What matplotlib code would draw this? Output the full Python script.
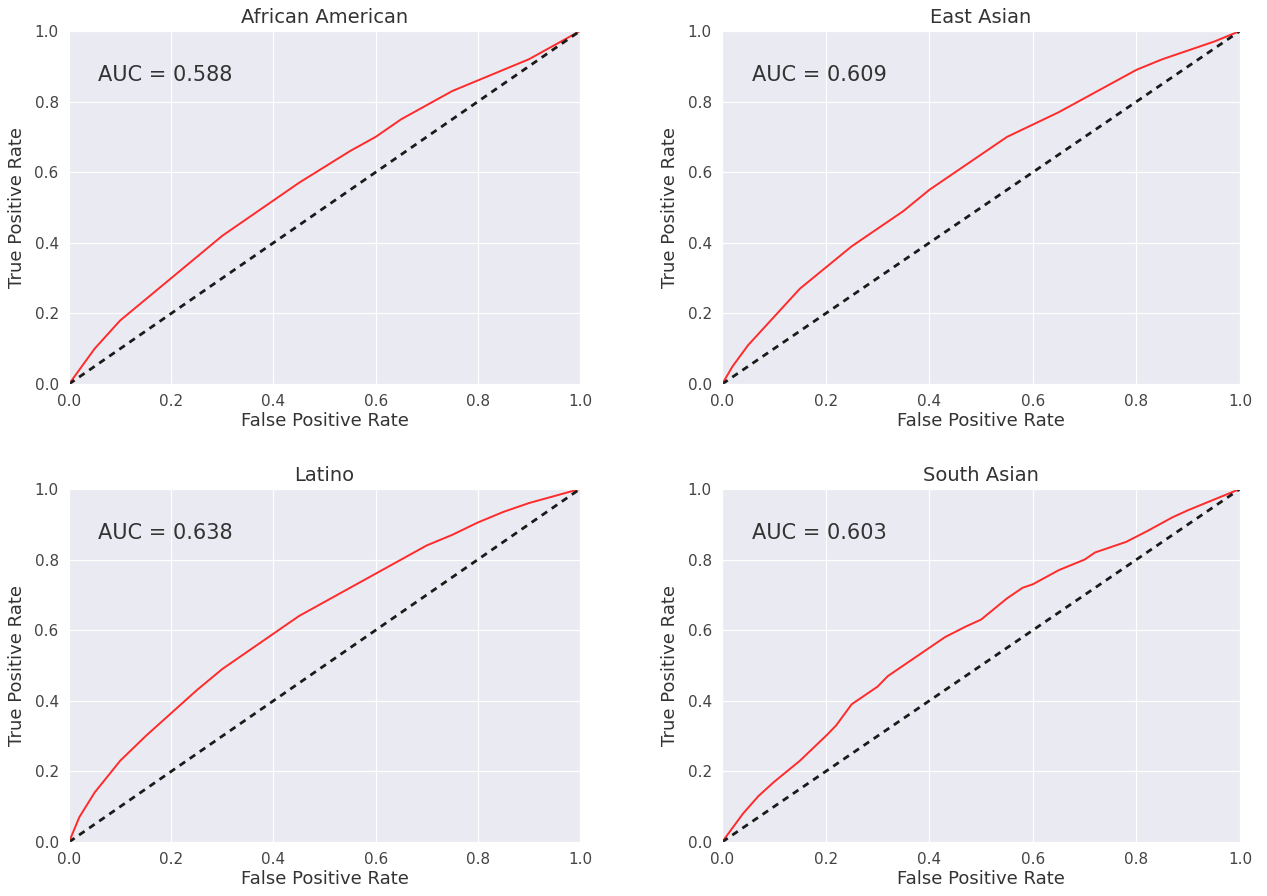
import numpy as np
import matplotlib
matplotlib.use("Agg")
import matplotlib.pyplot as plt
import seaborn as sns

# ROC curve points
groups = ["African American", "East Asian", "Latino", "South Asian"]
auc_values = [0.588, 0.609, 0.638, 0.603]

fpr_aa = [0.0, 0.02, 0.05, 0.10, 0.15, 0.20, 0.25, 0.30, 0.35, 0.40, 0.45, 0.50,
          0.55, 0.60, 0.65, 0.70, 0.75, 0.80, 0.85, 0.90, 0.95, 1.0]
tpr_aa = [0.0, 0.04, 0.10, 0.18, 0.24, 0.30, 0.36, 0.42, 0.47, 0.52, 0.57, 0.615,
          0.66, 0.70, 0.75, 0.79, 0.83, 0.86, 0.89, 0.92, 0.96, 1.0]

fpr_ea = [0.0, 0.02, 0.05, 0.10, 0.15, 0.20, 0.25, 0.30, 0.35, 0.40, 0.45, 0.50,
          0.55, 0.60, 0.65, 0.70, 0.75, 0.80, 0.85, 0.90, 0.95, 1.0]
tpr_ea = [0.0, 0.05, 0.11, 0.19, 0.27, 0.33, 0.39, 0.44, 0.49, 0.55, 0.60, 0.65,
          0.70, 0.735, 0.77, 0.81, 0.85, 0.89, 0.92, 0.945, 0.97, 1.0]

fpr_la = [0.0, 0.02, 0.05, 0.10, 0.15, 0.20, 0.25, 0.30, 0.35, 0.40, 0.45, 0.50,
          0.55, 0.60, 0.65, 0.70, 0.75, 0.80, 0.85, 0.90, 0.95, 1.0]
tpr_la = [0.0, 0.07, 0.14, 0.23, 0.30, 0.365, 0.43, 0.49, 0.54, 0.59, 0.64, 0.68,
          0.72, 0.76, 0.80, 0.84, 0.87, 0.905, 0.935, 0.96, 0.98, 1.0]

fpr_sa = [0.0, 0.02, 0.04, 0.07, 0.10, 0.15, 0.20, 0.22, 0.25, 0.27, 0.30, 0.32,
          0.35, 0.40, 0.43, 0.47, 0.50, 0.55, 0.58, 0.60, 0.65, 0.70, 0.72,
          0.78, 0.82, 0.87, 0.90, 0.95, 1.0]
tpr_sa = [0.0, 0.04, 0.08, 0.13, 0.17, 0.23, 0.30, 0.33, 0.39, 0.41, 0.44, 0.47,
          0.50, 0.55, 0.58, 0.61, 0.63, 0.69, 0.72, 0.73, 0.77, 0.80, 0.82,
          0.85, 0.88, 0.92, 0.94, 0.97, 1.0]

curves = [(fpr_aa, tpr_aa), (fpr_ea, tpr_ea), (fpr_la, tpr_la), (fpr_sa, tpr_sa)]

sns.set_style("darkgrid")
plt.rcParams['font.family'] = ['DejaVu Sans']

fig = plt.figure(figsize=(12.67, 8.96), dpi=100)

# axes rectangles (left, bottom, width, height) in figure fractions
rects = [
    [0.0545, 0.5714, 0.4033, 0.3940],
    [0.5700, 0.5714, 0.4087, 0.3940],
    [0.0545, 0.0603, 0.4033, 0.3940],
    [0.5700, 0.0603, 0.4087, 0.3940],
]

for rect, name, auc, (fpr, tpr) in zip(rects, groups, auc_values, curves):
    ax = fig.add_axes(rect)
    ax.plot(fpr, tpr, color="#ff2a2a", lw=1.4)
    ax.plot([0, 1], [0, 1], color="#1a1a1a", ls="--", lw=2, dashes=(2.4, 2.0))
    ax.set_xlim(0, 1)
    ax.set_ylim(0, 1)
    ax.set_xticks(np.arange(0, 1.01, 0.2))
    ax.set_yticks(np.arange(0, 1.01, 0.2))
    ax.tick_params(labelsize=11, colors="#444444", pad=4)
    ax.set_title(name, fontsize=14, color="#333333", pad=6)
    ax.set_xlabel("False Positive Rate", fontsize=13, color="#333333", labelpad=2)
    ax.set_ylabel("True Positive Rate", fontsize=13, color="#333333", labelpad=6)
    ax.text(0.057, 0.875, "AUC = %.3f" % auc, fontsize=15, color="#333333",
            va="center", ha="left")

fig.savefig("out.png", dpi=100)
